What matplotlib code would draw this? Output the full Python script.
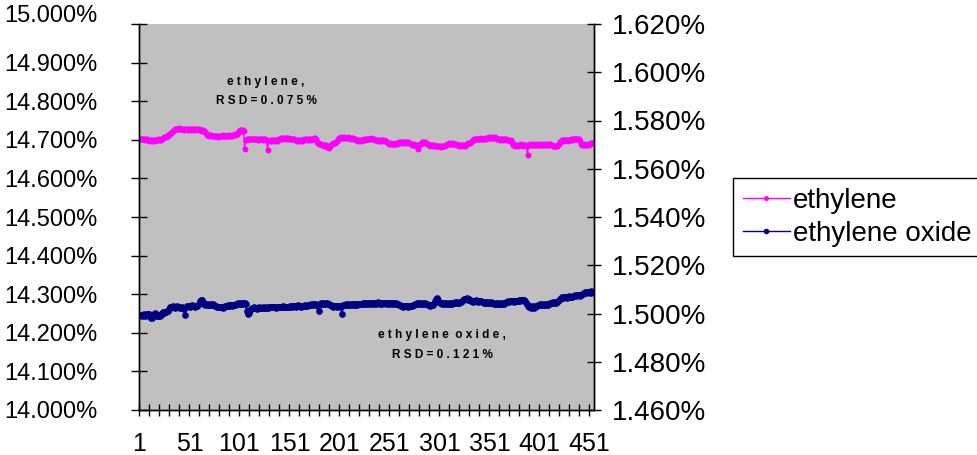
import matplotlib.pyplot as plt
import matplotlib.transforms as mtransforms
import numpy as np
from matplotlib.ticker import FixedLocator, FuncFormatter
from matplotlib.lines import Line2D

plt.rcParams['font.family'] = ['Liberation Sans', 'DejaVu Sans']

# ethylene concentration per injection, %
ethylene = [
    14.703, 14.702, 14.701, 14.703, 14.702, 14.700, 14.702, 14.701,
    14.699, 14.698, 14.700, 14.699, 14.697, 14.699, 14.700, 14.698, 14.699,
    14.700, 14.701, 14.699, 14.702, 14.700, 14.703, 14.705,
    14.707, 14.708, 14.706, 14.709, 14.711,
    14.714, 14.716, 14.717, 14.719, 14.722,
    14.726, 14.728, 14.729, 14.727, 14.728, 14.730, 14.728, 14.727, 14.729, 14.728, 14.726, 14.728, 14.729,
    14.727, 14.726, 14.728, 14.727, 14.725, 14.727, 14.728, 14.726, 14.727, 14.729, 14.727, 14.726, 14.727,
    14.725, 14.726, 14.724, 14.725, 14.723, 14.720, 14.717,
    14.713, 14.712, 14.711, 14.713, 14.712, 14.710, 14.711,
    14.710, 14.709, 14.711, 14.710, 14.708, 14.710, 14.711, 14.709, 14.710, 14.712,
    14.710, 14.709, 14.711, 14.710, 14.712, 14.711, 14.710, 14.712, 14.711, 14.712,
    14.713, 14.714, 14.712, 14.715, 14.718, 14.722,
    14.725, 14.726, 14.724, 14.725, 14.723,
    14.677,
    14.700, 14.702, 14.703, 14.701, 14.702, 14.703, 14.702, 14.701, 14.702, 14.703,
    14.701, 14.702, 14.700, 14.702, 14.703, 14.701, 14.702, 14.700, 14.701, 14.702, 14.700,
    14.699,
    14.674,
    14.698, 14.699, 14.697, 14.699, 14.700, 14.698, 14.699, 14.700, 14.698, 14.699, 14.701,
    14.703, 14.704, 14.702, 14.705, 14.704, 14.703, 14.705, 14.704, 14.703, 14.704,
    14.702, 14.703, 14.701, 14.702, 14.701, 14.700,
    14.699, 14.698, 14.699, 14.700, 14.698, 14.699, 14.697, 14.699,
    14.701, 14.700, 14.702, 14.701, 14.700, 14.701, 14.702, 14.700, 14.701, 14.703,
    14.705, 14.704, 14.703,
    14.694, 14.691, 14.690, 14.689, 14.690,
    14.687, 14.686, 14.685, 14.687, 14.686, 14.682, 14.681, 14.680, 14.683, 14.686,
    14.690, 14.692, 14.693, 14.691, 14.694, 14.697, 14.701,
    14.704, 14.705, 14.706, 14.705, 14.704, 14.706, 14.705, 14.704, 14.705, 14.706,
    14.704, 14.705, 14.703, 14.705, 14.704, 14.702, 14.701,
    14.699, 14.700, 14.698, 14.699, 14.700, 14.698, 14.699, 14.700, 14.701, 14.700,
    14.702, 14.703, 14.701, 14.702, 14.703, 14.704, 14.702, 14.701, 14.702, 14.700,
    14.699, 14.700, 14.698, 14.699, 14.697, 14.699, 14.700, 14.698, 14.699, 14.697, 14.696, 14.694, 14.692,
    14.690, 14.689, 14.691, 14.690, 14.688, 14.690, 14.689, 14.691, 14.690, 14.692,
    14.694, 14.693, 14.695, 14.694, 14.693, 14.695, 14.694, 14.692, 14.694, 14.695, 14.693, 14.691, 14.689,
    14.687, 14.686, 14.688, 14.686, 14.685, 14.687, 14.677, 14.686, 14.688, 14.690,
    14.694, 14.693, 14.695, 14.694, 14.692, 14.690, 14.688,
    14.686, 14.685, 14.687, 14.686, 14.684, 14.686, 14.685, 14.684,
    14.684, 14.683, 14.685, 14.684, 14.682, 14.684, 14.685, 14.683, 14.684, 14.686, 14.688,
    14.690, 14.691, 14.689, 14.690, 14.692, 14.690, 14.689, 14.690, 14.688, 14.687,
    14.686, 14.685, 14.687, 14.686, 14.684, 14.686, 14.687, 14.685, 14.686, 14.688,
    14.692, 14.693, 14.691, 14.694, 14.697, 14.700,
    14.702, 14.701, 14.703, 14.702, 14.701, 14.703, 14.704, 14.702, 14.703, 14.701, 14.702, 14.704, 14.703, 14.704,
    14.705, 14.706, 14.704, 14.705, 14.707, 14.705, 14.704, 14.706, 14.705, 14.703,
    14.701, 14.702, 14.700, 14.701, 14.702, 14.700, 14.701, 14.702, 14.701, 14.700,
    14.699, 14.700, 14.698, 14.699, 14.694,
    14.687, 14.686, 14.685, 14.687, 14.686, 14.685, 14.687, 14.686, 14.688, 14.686, 14.685, 14.686, 14.687, 14.686, 14.685,
    14.661,
    14.687, 14.688, 14.686, 14.687, 14.688, 14.686, 14.687, 14.689, 14.687, 14.686, 14.688, 14.687,
    14.687, 14.686, 14.688, 14.687, 14.686, 14.688, 14.687, 14.686, 14.688, 14.689, 14.687, 14.686, 14.685,
    14.684, 14.683, 14.685, 14.684, 14.686, 14.690, 14.694,
    14.698, 14.699, 14.700, 14.698, 14.699, 14.700, 14.699, 14.698, 14.700, 14.699, 14.701, 14.700, 14.701,
    14.702, 14.703, 14.701, 14.702, 14.703, 14.701, 14.696,
    14.688, 14.687, 14.686, 14.688, 14.687, 14.686, 14.687, 14.688, 14.687, 14.689,
    14.692, 14.691, 14.693, 14.692,
]

# ethylene oxide concentration per injection, %
ethylene_oxide = [
    1.4992, 1.4995, 1.4990, 1.4994, 1.4996, 1.4991, 1.4993, 1.4997,
    1.4999, 1.4996,
    1.4984, 1.4981, 1.4983, 1.4988,
    1.4998, 1.5001, 1.4997,
    1.4991, 1.4988, 1.4992, 1.4989, 1.4993,
    1.5004, 1.5007, 1.5003, 1.5008, 1.5005, 1.5009, 1.5012, 1.5018,
    1.5025, 1.5029, 1.5026, 1.5030, 1.5027, 1.5024, 1.5028, 1.5031, 1.5026, 1.5027,
    1.5023, 1.5021, 1.5025, 1.5022, 1.5019,
    1.4993,
    1.5029, 1.5032, 1.5030, 1.5033, 1.5028, 1.5031, 1.5034, 1.5030, 1.5032, 1.5029, 1.5033, 1.5031, 1.5035, 1.5039,
    1.5053, 1.5056, 1.5054, 1.5049,
    1.5040, 1.5037, 1.5039, 1.5036, 1.5038, 1.5035, 1.5037, 1.5040, 1.5036, 1.5038, 1.5035, 1.5033, 1.5030,
    1.5027, 1.5025, 1.5028, 1.5026, 1.5029, 1.5027, 1.5024, 1.5028, 1.5030, 1.5031,
    1.5033, 1.5035, 1.5032, 1.5036, 1.5034, 1.5033, 1.5036, 1.5035, 1.5037, 1.5038,
    1.5040, 1.5042, 1.5039, 1.5043, 1.5041, 1.5044, 1.5040, 1.5042, 1.5045, 1.5041,
    1.5010, 1.4999, 1.5003, 1.5015, 1.5020,
    1.5023, 1.5021, 1.5025, 1.5022, 1.5024, 1.5020, 1.5023, 1.5026, 1.5022,
    1.5024, 1.5021, 1.5025, 1.5023, 1.5022, 1.5026, 1.5024, 1.5023, 1.5025,
    1.5027, 1.5025, 1.5028, 1.5026, 1.5029, 1.5027, 1.5024, 1.5028, 1.5026, 1.5029,
    1.5027, 1.5025, 1.5028, 1.5030, 1.5027, 1.5026, 1.5029, 1.5028, 1.5027, 1.5029, 1.5030,
    1.5031, 1.5029, 1.5033, 1.5030, 1.5032, 1.5028, 1.5031, 1.5034, 1.5030,
    1.5032, 1.5029, 1.5033, 1.5031, 1.5030, 1.5034, 1.5032, 1.5033, 1.5035,
    1.5037, 1.5035, 1.5039, 1.5036, 1.5038, 1.5040, 1.5036, 1.5038, 1.5034, 1.5030,
    1.5009,
    1.5040, 1.5042, 1.5039, 1.5043, 1.5041, 1.5038, 1.5042, 1.5044, 1.5040, 1.5041, 1.5037, 1.5034,
    1.5031, 1.5029, 1.5033, 1.5030, 1.5032, 1.5028, 1.5031, 1.5033, 1.5030, 1.5027,
    1.4999,
    1.5035, 1.5037, 1.5034, 1.5038, 1.5036, 1.5039, 1.5037, 1.5035, 1.5038, 1.5040,
    1.5036, 1.5038, 1.5037, 1.5039, 1.5036, 1.5038, 1.5040, 1.5039, 1.5040,
    1.5041, 1.5043, 1.5040, 1.5044, 1.5042, 1.5039, 1.5041, 1.5045, 1.5042, 1.5040,
    1.5043, 1.5041, 1.5044, 1.5042, 1.5040, 1.5043, 1.5046, 1.5042, 1.5041, 1.5044,
    1.5040, 1.5042, 1.5045, 1.5043, 1.5041, 1.5044, 1.5042, 1.5040, 1.5043, 1.5045,
    1.5041, 1.5042, 1.5044, 1.5040, 1.5043, 1.5041, 1.5039, 1.5037, 1.5035, 1.5033,
    1.5031, 1.5029, 1.5032, 1.5030, 1.5033, 1.5031, 1.5028, 1.5032, 1.5030, 1.5033, 1.5031, 1.5034, 1.5036, 1.5038,
    1.5041, 1.5043, 1.5040, 1.5042, 1.5044, 1.5041, 1.5039, 1.5042, 1.5040, 1.5043, 1.5041, 1.5038, 1.5036,
    1.5034, 1.5033, 1.5035, 1.5034, 1.5036, 1.5042, 1.5052,
    1.5062, 1.5065, 1.5058,
    1.5046, 1.5043, 1.5045, 1.5041, 1.5043, 1.5040, 1.5042, 1.5044, 1.5041, 1.5039, 1.5042, 1.5040, 1.5043, 1.5041, 1.5044,
    1.5045, 1.5047, 1.5044, 1.5046, 1.5043, 1.5045, 1.5048, 1.5046, 1.5050, 1.5054,
    1.5059, 1.5062, 1.5060, 1.5063, 1.5058, 1.5061, 1.5056,
    1.5051, 1.5053, 1.5049, 1.5052, 1.5050, 1.5054, 1.5051, 1.5049, 1.5052, 1.5050, 1.5053, 1.5049, 1.5047,
    1.5045, 1.5043, 1.5046, 1.5044, 1.5047, 1.5045, 1.5042, 1.5046, 1.5044, 1.5043,
    1.5041, 1.5039, 1.5042, 1.5040, 1.5043, 1.5041, 1.5038, 1.5042, 1.5040, 1.5043, 1.5041, 1.5044, 1.5046, 1.5048,
    1.5051, 1.5049, 1.5052, 1.5050, 1.5053, 1.5051, 1.5048, 1.5052, 1.5050, 1.5053, 1.5051, 1.5054, 1.5052,
    1.5055, 1.5057, 1.5054, 1.5056, 1.5053, 1.5045, 1.5038,
    1.5031, 1.5028, 1.5032, 1.5023, 1.5026, 1.5030, 1.5021, 1.5029, 1.5031, 1.5033,
    1.5037, 1.5035, 1.5038, 1.5036, 1.5039, 1.5037, 1.5034, 1.5038, 1.5036, 1.5039, 1.5037, 1.5040, 1.5042,
    1.5045, 1.5043, 1.5046, 1.5044, 1.5047, 1.5045, 1.5048, 1.5052, 1.5057, 1.5062,
    1.5066, 1.5068, 1.5065, 1.5069, 1.5067, 1.5070, 1.5066, 1.5068, 1.5071, 1.5067, 1.5069, 1.5070, 1.5072,
    1.5074, 1.5076, 1.5073, 1.5077, 1.5075, 1.5078, 1.5074, 1.5076, 1.5079, 1.5082,
    1.5086, 1.5089, 1.5087, 1.5090, 1.5088, 1.5091, 1.5087, 1.5092, 1.5089, 1.5090, 1.5086,
]

x_tick_labels = [1, 51, 101, 151, 201, 251, 301, 351, 401, 451]
left_ticks = [14.0, 14.1, 14.2, 14.3, 14.4, 14.5, 14.6, 14.7, 14.8, 14.9, 15.0]
right_ticks = [1.46, 1.48, 1.50, 1.52, 1.54, 1.56, 1.58, 1.60, 1.62]
series_names = ['ethylene', 'ethylene oxide']
notes = ['ethylene,\nRSD=0.075%', 'ethylene oxide,\nRSD=0.121%']

C_ETH = '#FF00FF'
C_EO = '#000080'
FS_LEFT = 17
FS_BOTTOM = 18
FS = 20

n = max(len(ethylene), len(ethylene_oxide))

fig = plt.figure(figsize=(9.77, 4.55), dpi=100)
ax = fig.add_axes([139 / 977, 45 / 455, 455 / 977, 386 / 455])
ax.set_facecolor('#C0C0C0')
ax2 = ax.twinx()

ax.plot(np.arange(1, len(ethylene) + 1), ethylene, color=C_ETH, lw=1,
        marker='o', ms=3.3, mec=C_ETH, mfc=C_ETH)
ax2.plot(np.arange(1, len(ethylene_oxide) + 1), ethylene_oxide, color=C_EO, lw=1,
         marker='o', ms=3.8, mec=C_EO, mfc=C_EO)

ax.set_xlim(0.5, n + 0.5)
ax.set_ylim(left_ticks[0], left_ticks[-1])
ax2.set_ylim(right_ticks[0], right_ticks[-1])

pct = FuncFormatter(lambda v, p: f'{v:.3f}%')
ax.yaxis.set_major_locator(FixedLocator(left_ticks))
ax.yaxis.set_major_formatter(pct)
ax2.yaxis.set_major_locator(FixedLocator(right_ticks))
ax2.yaxis.set_major_formatter(pct)

# labels every 50 points, tick marks every 10 points on category boundaries
ax.xaxis.set_major_locator(FixedLocator(x_tick_labels))
ax.xaxis.set_minor_locator(FixedLocator(np.arange(0.5, n, 10)))
ax.set_xticklabels([str(v) for v in x_tick_labels])
ax.xaxis.set_ticks_position('bottom')

ax.tick_params(axis='x', which='major', length=0, pad=16, labelsize=FS_BOTTOM)
ax.tick_params(axis='x', which='minor', direction='inout', length=9, width=1)
ax.tick_params(axis='y', direction='inout', length=11.5, width=1, pad=24, labelsize=FS_LEFT)
ax2.tick_params(axis='y', direction='inout', length=10, width=1, pad=8, labelsize=FS)

for a in (ax, ax2):
    a.spines['top'].set_visible(False)
    for s in ('left', 'right', 'bottom'):
        a.spines[s].set_color('black')
        a.spines[s].set_linewidth(1)

# top left label sits a little above its tick
top_label = ax.yaxis.get_major_ticks()[-1].label1
top_label.set_transform(top_label.get_transform() +
                        mtransforms.ScaledTranslation(0, 11 / 100, fig.dpi_scale_trans))


def spaced(s):
    # wide letter spacing, words kept apart by a double gap
    return '\n'.join('  '.join(' '.join(w) for w in line.split(' '))
                     for line in s.split('\n'))


ax.text(0.279, 0.826, spaced(notes[0]), transform=ax.transAxes, ha='center', va='center',
        fontsize=8.5, fontweight='bold', linespacing=1.8)
ax.text(0.666, 0.168, spaced(notes[1]), transform=ax.transAxes, ha='center', va='center',
        fontsize=8.5, fontweight='bold', linespacing=1.9)

handles = [Line2D([], [], color=C_ETH, lw=1, marker='o', ms=2.5),
           Line2D([], [], color=C_EO, lw=1, marker='o', ms=3)]
leg = fig.legend(handles, series_names, loc='upper left',
                 bbox_to_anchor=(733 / 977, 1 - 178 / 455), fontsize=FS,
                 frameon=True, fancybox=False, edgecolor='black', framealpha=1,
                 handlelength=1.7, handletextpad=0.12, labelspacing=0.25,
                 borderpad=0.35, borderaxespad=0)
leg.get_frame().set_linewidth(1)

fig.savefig('out.png', dpi=100)
